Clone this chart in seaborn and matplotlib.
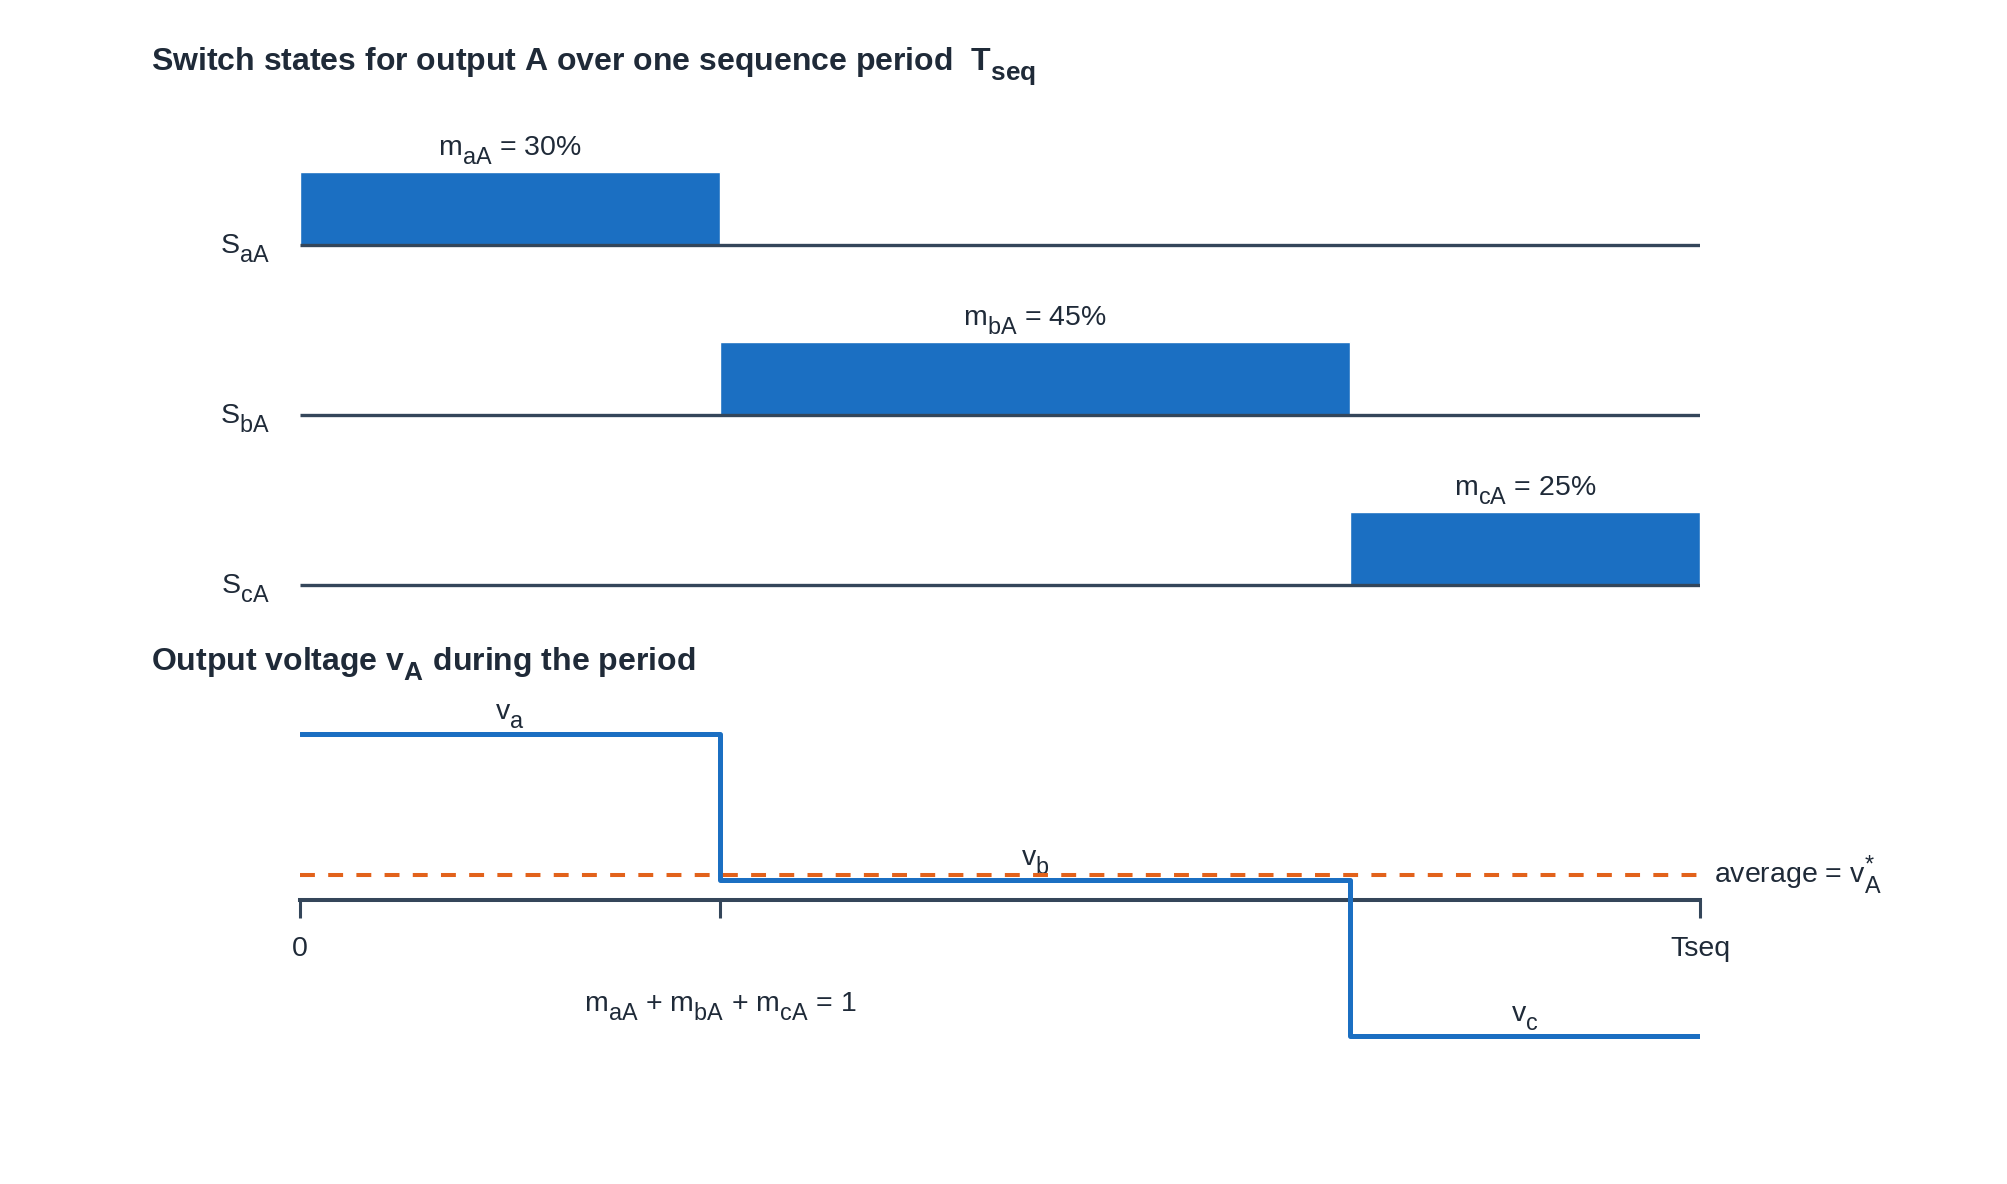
import matplotlib
matplotlib.use("Agg")
import matplotlib.pyplot as plt
import matplotlib._mathtext as mathtext_internal
import seaborn as sns
import numpy as np
import pandas as pd

# values
phases = ["a", "b", "c"]
duty = [0.30, 0.45, 0.25]          # m_aA, m_bA, m_cA
levels = [1.0, 0.12, -0.82]        # v_a, v_b, v_c (relative)
tick_pos = [0.0, 0.30, 0.75, 1.0]
tick_labels = ["0", "", "", "Tseq"]

# subscripts in the reference are larger and sit lower than mathtext's default
mathtext_internal.SHRINK_FACTOR = 0.82
mathtext_internal.FontConstantsBase.sub1 = 0.6
mathtext_internal.FontConstantsBase.sub2 = 0.7

sns.set_theme(style="white")
plt.rcParams["font.family"] = ["Liberation Sans", "DejaVu Sans"]
plt.rcParams["mathtext.fontset"] = "custom"
plt.rcParams["mathtext.rm"] = "Liberation Sans"
plt.rcParams["mathtext.it"] = "Liberation Sans"
plt.rcParams["mathtext.bf"] = "Liberation Sans:bold"

TXT = "#1f2a38"
DARK = "#34465a"
BLUE = "#1b6fc2"
ORANGE = "#e2621b"
FS = 20.5
FS_TITLE = 23

starts = np.concatenate([[0], np.cumsum(duty)[:-1]])
rows = [2, 1, 0]

fig = plt.figure(figsize=(20.08, 11.84), dpi=100)

# switch states
ax1 = fig.add_axes([300 / 2008, 1 - 653 / 1184, 1400 / 2008, 527 / 1184])
ax1.barh(rows, duty, left=starts, height=0.43, align="edge", color=BLUE, zorder=2)
ax1.hlines(rows, 0, 1, color=DARK, lw=2.4, zorder=3)
for p, r, s, d in zip(phases, rows, starts, duty):
    ax1.annotate(f"S$_{{{p}A}}$", (0, r), xytext=(-22, -6), textcoords="offset points",
                 ha="right", va="baseline", fontsize=FS, color=TXT)
    ax1.annotate(f"m$_{{{p}A}}$ = {d:.0%}", (s + d / 2, r + 0.43), xytext=(0, 4),
                 textcoords="offset points", ha="center", va="bottom", fontsize=FS, color=TXT)
ax1.set_xlim(0, 1)
ax1.set_ylim(-0.4, 2.7)
ax1.axis("off")

# output voltage
ax2 = fig.add_axes([300 / 2008, 1 - 1099 / 1184, 1400 / 2008, 415 / 1184])
df = pd.DataFrame({"t": list(starts) + [1.0], "v": levels + [levels[-1]]})
sns.lineplot(data=df, x="t", y="v", ax=ax2, color=BLUE, lw=3.6,
             drawstyle="steps-post", zorder=3)
avg = float(np.dot(duty, levels))
ax2.axhline(avg, xmin=0, xmax=1, color=ORANGE, lw=2.9, ls=(0, (3.7, 3.3)), zorder=4)
for p, s, d, v in zip(phases, starts, duty, levels):
    ax2.annotate(f"v$_{{{p}}}$", (s + d / 2, v), xytext=(0, 3), textcoords="offset points",
                 ha="center", va="bottom", fontsize=FS, color=TXT)
ax2.text(1.01, avg, "average = v$_{A}^{*}$", ha="left", va="center", fontsize=FS, color=TXT)
ax2.text(0.30, -0.64, "m$_{aA}$ + m$_{bA}$ + m$_{cA}$ = 1", ha="center", va="center",
         fontsize=FS, color=TXT)

ax2.set_xlim(0, 1)
ax2.set_ylim(-1.2, 1.3)
for side in ["top", "right", "left"]:
    ax2.spines[side].set_visible(False)
ax2.spines["bottom"].set_position(("data", 0))
ax2.spines["bottom"].set_color(DARK)
ax2.spines["bottom"].set_linewidth(2.9)
ax2.set_xticks(tick_pos)
ax2.set_xticklabels(tick_labels)
ax2.tick_params(axis="x", direction="out", length=13, width=2.2, color=DARK,
                pad=13, labelsize=FS, labelcolor=TXT, bottom=True)
ax2.set_yticks([])
ax2.set_xlabel("")
ax2.set_ylabel("")

fig.text(151 / 2008, 1 - 66 / 1184,
         r"Switch states for output A over one sequence period  T$_{\mathbf{seq}}$",
         ha="left", va="center", fontsize=FS_TITLE, fontweight="bold", color=TXT)
fig.text(151 / 2008, 1 - 664 / 1184, r"Output voltage v$_{\mathbf{A}}$ during the period",
         ha="left", va="center", fontsize=FS_TITLE, fontweight="bold", color=TXT)

fig.savefig("out.png", dpi=100, facecolor="white")
